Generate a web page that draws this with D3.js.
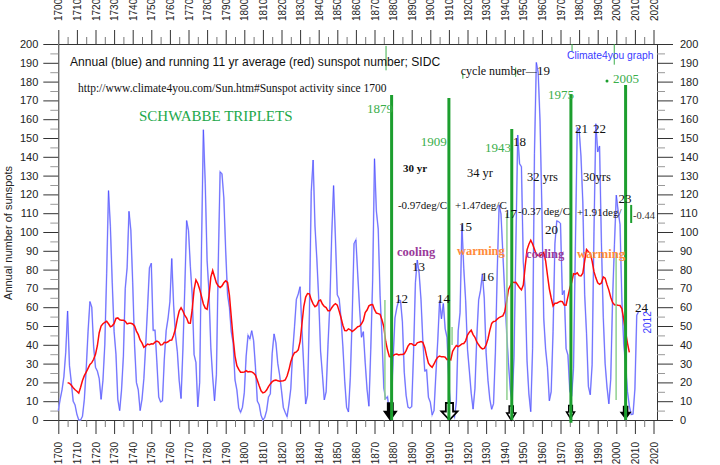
<!DOCTYPE html>
<html><head><meta charset="utf-8">
<script src="https://cdn.jsdelivr.net/npm/d3@7"></script>
<style>body{margin:0;background:#fff}svg{display:block}</style>
</head><body><svg id="c" width="720" height="465"></svg>
<script>
// ---------------- data ----------------
const startYear = 1700;
const sunspots = [
5,11,16,23,36,58,29,20,10,8,
3,0,0,2,11,27,47,63,60,39,
28,26,22,11,21,40,78,122,103,73,
47,35,11,5,16,34,70,81,111,101,
73,40,20,16,5,11,22,40,60,80.9,
83.4,47.7,47.8,30.7,12.2,9.6,10.2,32.4,47.6,54.0,
62.9,85.9,61.2,45.1,36.4,20.9,11.4,37.8,69.8,106.1,
100.8,81.6,66.5,34.8,30.6,7.0,19.8,92.5,154.4,125.9,
84.8,68.1,38.5,22.8,10.2,24.1,82.9,132.0,130.9,118.1,
89.9,66.6,60.0,46.9,41.0,21.3,16.0,6.4,4.1,6.8,
14.5,34.0,45.0,43.1,47.5,42.2,28.1,10.1,8.1,2.5,
0.0,1.4,5.0,12.2,13.9,35.4,45.8,41.0,30.1,23.9,
15.6,6.6,4.0,1.8,8.5,16.6,36.3,49.6,64.2,67.0,
70.9,47.8,27.5,8.5,13.2,56.9,121.5,138.3,103.2,85.7,
64.6,36.7,24.2,10.7,15.0,40.1,61.5,98.5,124.7,96.3,
66.6,64.5,54.1,39.0,20.6,6.7,4.3,22.7,54.8,93.8,
95.8,77.2,59.1,44.0,47.0,30.5,16.3,7.3,37.6,74.0,
139.0,111.2,101.6,66.2,44.7,17.0,11.3,12.4,3.4,6.0,
32.3,54.3,59.7,63.7,63.5,52.2,25.4,13.1,6.8,6.3,
7.1,35.6,73.0,85.1,78.0,64.0,41.8,26.2,26.7,12.1,
9.5,2.7,5.0,24.4,42.0,63.5,53.8,62.0,48.5,43.9,
18.6,5.7,3.6,1.4,9.6,47.4,57.1,103.9,80.6,63.6,
37.6,26.1,14.2,5.8,16.7,44.3,63.9,69.0,77.8,64.9,
35.7,21.2,11.1,5.7,8.7,36.1,79.7,114.4,109.6,88.8,
67.8,47.5,30.6,16.3,9.6,33.2,92.6,151.6,136.3,134.7,
83.9,69.4,31.5,13.9,4.4,38.0,141.7,190.2,184.8,159.0,
112.3,53.9,37.6,27.9,10.2,15.1,47.0,93.8,105.9,105.5,
104.5,66.6,68.9,38.0,34.5,15.5,12.6,27.5,92.5,155.4,
154.6,140.4,115.9,66.6,45.9,17.9,13.4,29.4,100.2,157.6,
142.6,145.7,94.3,54.6,29.9,17.5,8.6,21.5,64.3,93.3,
119.6,111.0,104.0,63.7,40.4,29.8,15.2,7.5,2.9,3.1,
16.5,55.7,57.7];

const avgStartYear = 1705;
const runningAvg = [
19.9,19.5,18.5,17.2,16.1,15.3,14.3,17.4,21.0,23.6,
25.5,27.5,29.5,30.5,32.3,34.9,39.5,46.4,50.0,51.2,
51.9,52.5,51.2,49.6,50.1,51.3,54.0,54.3,53.3,53.1,
53.1,52.5,51.1,51.5,51.5,51.1,50.0,47.3,45.4,42.6,
41.0,38.7,39.4,40.4,40.1,40.5,40.4,41.4,42.0,41.5,
39.9,40.1,41.3,41.1,41.6,42.4,42.5,45.1,48.5,53.8,
58.0,59.7,58.0,55.6,54.2,51.6,51.5,58.8,69.4,74.5,
72.6,69.6,65.7,61.7,59.5,58.9,65.8,76.0,79.5,76.2,
72.9,71.3,70.5,71.3,73.0,74.0,73.2,66.3,54.7,43.4,
34.0,28.9,26.9,25.4,25.4,25.5,26.2,25.6,25.8,25.6,
25.0,23.8,21.2,18.2,15.5,14.4,14.8,15.9,17.8,19.2,
20.4,21.0,21.2,20.9,20.6,20.8,20.9,21.3,23.4,26.7,
31.0,33.9,35.8,36.2,37.3,41.7,51.2,60.5,65.4,67.3,
67.1,64.0,61.8,60.3,60.9,63.4,63.8,61.7,60.4,59.8,
58.1,58.1,59.7,61.0,61.9,61.1,57.9,54.4,50.4,47.6,
47.5,48.5,48.0,47.1,47.8,48.7,49.6,49.9,51.2,53.0,
57.1,58.5,60.7,61.3,61.4,58.7,56.9,56.6,56.2,53.3,
49.6,41.9,37.2,33.7,33.5,34.2,34.9,35.1,34.6,34.8,
34.9,35.2,36.9,39.3,40.6,40.6,39.7,39.7,41.0,41.4,
41.7,41.3,38.6,34.1,30.2,28.9,28.0,29.8,31.8,33.4,
34.0,33.6,33.7,33.4,32.1,32.5,32.0,36.5,38.2,39.6,
39.0,39.7,40.5,40.7,42.1,45.2,46.7,47.8,45.4,44.0,
41.5,40.0,38.6,37.8,38.1,39.9,43.1,47.7,51.4,52.4,
52.6,53.7,54.5,55.0,55.4,57.6,62.7,69.3,71.3,73.5,
73.1,73.2,71.8,70.3,69.2,71.8,81.6,90.5,93.5,95.6,
93.6,90.8,87.9,87.6,87.3,88.2,89.1,84.7,77.0,69.8,
64.9,60.7,62.1,62.1,62.7,63.2,63.0,61.2,61.1,65.6,
70.1,73.3,77.8,77.6,78.3,76.8,76.6,78.1,84.7,90.7,
89.5,88.7,84.5,78.9,75.6,73.0,72.2,72.9,76.1,75.4,
72.0,69.1,65.3,62.5,61.3,61.2,61.0,60.9,59.2,53.7,
46.7,40.9,36.0];

const yearTickLabels = [1700,1710,1720,1730,1740,1750,1760,1770,1780,1790,1800,1810,1820,1830,1840,1850,1860,1870,1880,1890,1900,1910,1920,1930,1940,1950,1960,1970,1980,1990,2000,2010,2020];
const countTickLabels = [0,10,20,30,40,50,60,70,80,90,100,110,120,130,140,150,160,170,180,190,200];

// triplet boundaries (thick green lines): year and top value
const boundaryYears = [1879.2, 1910.0, 1943.8, 1975.6, 2005.0];
const boundaryTops  = [172.9, 171.3, 154.8, 173.4, 178.2];
// thin light-green guide lines
const guideYears = [1875.6, 1911.7, 1941.2, 1999.9];
const guideFrom  = [63.8, 49.5, 110, 88.8];
const guideTo    = [10.6, 39.9, 10.6, 10.6];

// minimum arrows at the bottom
const arrowYears = [1878.5, 1910.3, 1943.5, 1975.4, 2005.0];
const arrowFilled = [true, false, false, false, true];

// text annotations: [year, value, text, class]
const notes = [
 [1706.3,188.3,"Annual (blue) and running 11 yr average (red) sunspot number; SIDC","title"],
 [1710.6,174.5,"http://www.climate4you.com/Sun.htm#Sunspot activity since 1700","url"],
 [1743.4,159.0,"SCHWABBE TRIPLETS","trip"],
 [1973.5,192.0,"Climate4you graph","c4y"],
 [1916.4,183.4,"cycle number","serif"],
 [1951.3,183.4,"\u2014","dash"],
 [1957.3,183.4,"19","num"],
 [1866.0,163.3,"1879","yr"],
 [1894.9,146.0,"1909","yr"],
 [1929.4,142.8,"1943","yr"],
 [1963.3,170.5,"1975","yr"],
 [1998.2,179.0,"2005","yr"],
 [1885.3,131.9,"30 yr","bold"],
 [1919.7,129.0,"34 yr","per"],
 [1952.0,126.9,"32 yrs","per"],
 [1982.1,126.9,"30yrs","per"],
 [1882.6,112.2,"-0.97deg/C","deg"],
 [1913.3,112.0,"+1.47deg/C","deg"],
 [1947.2,109.3,"-0.37 deg/C","deg"],
 [1978.9,108.5,"+1.91deg/","deg"],
 [2009.0,106.9,"-0.44","small"],
 [1939.6,107.5,"17","num"],
 [2001.2,115.6,"23","num"],
 [1915.4,100.3,"15","num"],
 [1961.6,99.2,"20","num"],
 [1882.1,87.2,"cooling","cool"],
 [1914.3,87.8,"warming","warm"],
 [1951.5,86.2,"cooling","cool"],
 [1978.9,86.2,"warming","warm"],
 [1890.2,79.5,"13","num"],
 [1927.3,73.7,"16","num"],
 [1881.0,62.0,"12","num"],
 [1903.6,62.0,"14","num"],
 [2010.0,57.7,"24","num"],
 [1944.5,145.5,"18","num"],
 [1977.8,152.9,"21","num"],
 [1987.5,152.9,"22","num"]
];

// ---------------- drawing ----------------
const svg = d3.select("#c");
const x = d3.scaleLinear().domain([1700, 2020]).range([58.3, 653.5]);
const y = d3.scaleLinear().domain([0, 200]).range([420, 44]);
const rightX = 657;
const sans = "'Liberation Sans', Arial, sans-serif";
const serif = "'Liberation Serif', 'Times New Roman', serif";

function styleAxis(g, color) {
  g.selectAll("path.domain").attr("stroke", "#333").attr("stroke-width", 1);
  g.selectAll(".tick line").attr("stroke", color || "#333");
  g.selectAll("text").attr("fill", "#222");
}
const minorYears = yearTickLabels.slice(0, -1).map(v => v + 5);
const minorCounts = countTickLabels.slice(0, -1).map(v => v + 5);

// left axis
const gl = svg.append("g").attr("transform", "translate(58.3,0)")
  .call(d3.axisLeft(y).tickValues(countTickLabels).tickSize(15).tickSizeOuter(0).tickPadding(5));
gl.selectAll("text").attr("font-family", sans).attr("font-size", 11);
styleAxis(gl);
const glm = svg.append("g").attr("transform", "translate(58.3,0)")
  .call(d3.axisLeft(y).tickValues(minorCounts).tickSize(8).tickFormat(""));
glm.select("path.domain").remove(); styleAxis(glm, "#999");

// right axis
const gr = svg.append("g").attr("transform", `translate(${rightX},0)`)
  .call(d3.axisRight(y).tickValues(countTickLabels).tickSize(16).tickSizeOuter(0).tickPadding(7));
gr.selectAll("text").attr("font-family", sans).attr("font-size", 11);
styleAxis(gr);
const grm = svg.append("g").attr("transform", `translate(${rightX},0)`)
  .call(d3.axisRight(y).tickValues(minorCounts).tickSize(8).tickFormat(""));
grm.select("path.domain").remove(); styleAxis(grm, "#999");

// top axis
const gt = svg.append("g").attr("transform", "translate(0,44)")
  .call(d3.axisTop(x).tickValues(yearTickLabels).tickSize(14).tickSizeOuter(0).tickFormat(d3.format("d")));
gt.selectAll("text").attr("font-family", sans).attr("font-size", 10)
  .attr("transform", "rotate(-90)").attr("x", 23).attr("y", 0).attr("dy", "0.35em")
  .attr("text-anchor", "start");
styleAxis(gt);
const gtm = svg.append("g").attr("transform", "translate(0,44)")
  .call(d3.axisTop(x).tickValues(minorYears).tickSize(7).tickFormat(""));
gtm.select("path.domain").remove(); styleAxis(gtm, "#777");

// bottom axis
const gb = svg.append("g").attr("transform", "translate(0,420)")
  .call(d3.axisBottom(x).tickValues(yearTickLabels).tickSize(14).tickSizeOuter(0).tickFormat(d3.format("d")));
gb.selectAll("text").attr("font-family", sans).attr("font-size", 10)
  .attr("transform", "rotate(-90)").attr("x", -22).attr("y", 0).attr("dy", "0.35em")
  .attr("text-anchor", "end");
styleAxis(gb);
const gbm = svg.append("g").attr("transform", "translate(0,420)")
  .call(d3.axisBottom(x).tickValues(minorYears).tickSize(7).tickFormat(""));
gbm.select("path.domain").remove(); styleAxis(gbm, "#777");

// frame joins
svg.append("line").attr("x1", x(2020)).attr("x2", rightX).attr("y1", 44.5).attr("y2", 44.5).attr("stroke", "#333");
svg.append("line").attr("x1", x(2020)).attr("x2", rightX).attr("y1", 420.5).attr("y2", 420.5).attr("stroke", "#333");

// y label
svg.append("text").attr("transform", `translate(8,${(y(0)+y(200))/2 + 1}) rotate(-90)`)
  .attr("text-anchor", "middle").attr("dy", "0.35em").attr("font-family", sans).attr("font-size", 11).attr("fill", "#222")
  .text("Annual number of sunspots");

// blue annual line
const annual = sunspots.map((v, i) => ({yr: startYear + i, v}));
svg.append("path").datum(annual)
  .attr("d", d3.line().x(d => x(d.yr)).y(d => y(d.v)))
  .attr("fill", "none").attr("stroke", "#b4b6ff").attr("stroke-width", 1.6);
svg.append("path").datum(annual)
  .attr("d", d3.line().x(d => x(d.yr)).y(d => y(d.v)))
  .attr("fill", "none").attr("stroke", "#3a3aff").attr("stroke-width", 0.8).attr("opacity", 0.7);

// red running average
const avg = runningAvg.map((v, i) => ({yr: avgStartYear + i, v}));
svg.append("path").datum(avg)
  .attr("d", d3.line().x(d => x(d.yr)).y(d => y(d.v)))
  .attr("fill", "none").attr("stroke", "#ff0a0a").attr("stroke-width", 1.5);

// arrows
function arrow(cx, tip, w, h) {
  const sw = w * 0.45, hh = h * 0.5;
  return `M${cx - sw/2},${tip - h}L${cx + sw/2},${tip - h}L${cx + sw/2},${tip - hh}L${cx + w/2},${tip - hh}L${cx},${tip}L${cx - w/2},${tip - hh}L${cx - sw/2},${tip - hh}Z`;
}
const arrowW = [12, 16, 9, 8, 9];
const arrowH = [17, 17, 14, 13, 12];
svg.append("g").selectAll("path").data(arrowYears).join("path")
  .attr("d", (d, i) => arrow(x(d), y(0) - (i > 2 ? 1.5 : 0), arrowW[i], arrowH[i]))
  .attr("fill", (d, i) => arrowFilled[i] ? "#000" : "#fff")
  .attr("stroke", "#000").attr("stroke-width", (d, i) => i === 1 ? 1.8 : 1.5)
  .attr("stroke-linejoin", "miter");

// light guide lines
svg.append("g").selectAll("line").data(guideYears).join("line")
  .attr("x1", d => x(d)).attr("x2", d => x(d))
  .attr("y1", (d, i) => y(guideFrom[i])).attr("y2", (d, i) => y(guideTo[i]))
  .attr("stroke", "#8fd08f").attr("stroke-width", 1.5);

// thick green boundary lines
svg.append("g").selectAll("line").data(boundaryYears).join("line")
  .attr("x1", d => x(d)).attr("x2", d => x(d))
  .attr("y1", (d, i) => y(boundaryTops[i])).attr("y2", (d, i) => i === 3 ? y(-1.5) : y(0))
  .attr("stroke", "#1c9e2e").attr("stroke-width", 3);

// small green marks
svg.append("line").attr("x1", x(2008.0)).attr("x2", x(2008.0)).attr("y1", y(114.4)).attr("y2", y(104.8))
  .attr("stroke", "#1c9e2e").attr("stroke-width", 2);
const tinyYears = [1876.2, 1917.5, 1945.9, 1976.2, 1998.9];
const tinyFrom = [199, 184.5, 187.5, 200, 200];
const tinyTo = [186, 181.5, 182.5, 196, 189];
svg.append("g").selectAll("line").data(tinyYears).join("line")
  .attr("x1", d => x(d)).attr("x2", d => x(d))
  .attr("y1", (d, i) => y(tinyFrom[i])).attr("y2", (d, i) => y(tinyTo[i]))
  .attr("stroke", "#3cae4c").attr("stroke-width", 1);
svg.append("circle").attr("cx", x(1995.0)).attr("cy", y(180.3)).attr("r", 1.5).attr("fill", "#1c9e2e");

// text notes
const styles = {
  title: {f: sans, s: 12.1, c: "#111", w: "normal"},
  url:   {f: serif, s: 11.5, c: "#111", w: "normal"},
  trip:  {f: serif, s: 15, c: "#22a84a", w: "normal"},
  c4y:   {f: sans, s: 10.3, c: "#3a3aff", w: "normal"},
  serif: {f: serif, s: 12, c: "#111", w: "normal"},
  dash:  {f: serif, s: 11, c: "#111", w: "bold"},
  num:   {f: serif, s: 13, c: "#111", w: "normal"},
  yr:    {f: serif, s: 13, c: "#3aae4a", w: "normal"},
  bold:  {f: serif, s: 11, c: "#111", w: "bold"},
  per:   {f: serif, s: 12.5, c: "#111", w: "normal"},
  deg:   {f: serif, s: 11, c: "#111", w: "normal"},
  small: {f: serif, s: 10.5, c: "#333", w: "normal"},
  cool:  {f: serif, s: 12.5, c: "#9a3a9a", w: "bold"},
  warm:  {f: serif, s: 12.5, c: "#ff8a3a", w: "bold"}
};
svg.append("g").selectAll("text").data(notes).join("text")
  .attr("x", d => x(d[0])).attr("y", d => y(d[1]))
  .attr("font-family", d => styles[d[3]].f)
  .attr("font-size", d => styles[d[3]].s)
  .attr("font-weight", d => styles[d[3]].w)
  .attr("fill", d => styles[d[3]].c)
  .text(d => d[2]);

// rotated 2012 label
svg.append("text").attr("transform", `translate(${x(2016.6)},${y(51.9)}) rotate(-90)`)
  .attr("text-anchor", "middle").attr("dy", "0.35em")
  .attr("font-family", sans).attr("font-size", 10).attr("fill", "#3a3aff").text("2012");
</script></body></html>
